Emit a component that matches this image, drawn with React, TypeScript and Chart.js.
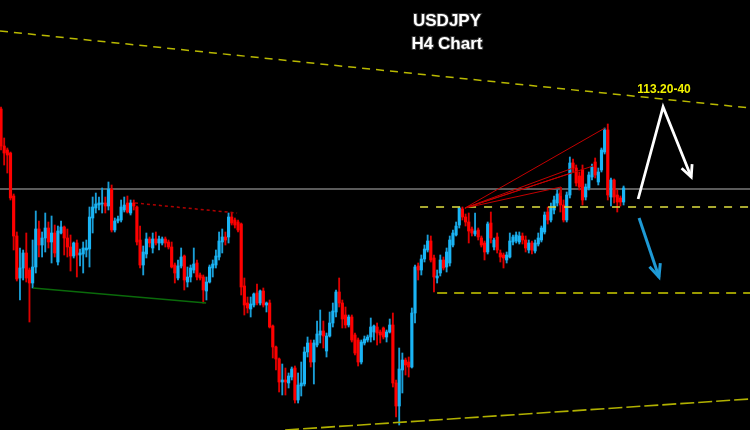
import React, { useEffect, useRef } from "react";
import { Chart, registerables } from "chart.js";

Chart.register(...registerables);

// ---- Candle data (USDJPY H4), one entry per candle ----
const openP = [
  112.91,112.54,112.50,112.47,112.04,111.64,111.22,111.32,111.47,111.30,
  111.17,111.33,111.71,111.55,111.62,111.72,111.58,111.67,111.38,111.67,
  111.73,111.62,111.53,111.44,111.57,111.45,111.46,111.50,111.51,111.82,
  111.92,111.95,111.96,111.97,111.94,112.11,111.70,111.79,111.80,111.90,
  111.97,111.87,111.97,111.93,111.60,111.35,111.46,111.61,111.52,111.61,
  111.57,111.57,111.61,111.58,111.53,111.35,111.22,111.34,111.44,111.18,
  111.23,111.30,111.37,111.25,111.23,111.09,111.18,111.32,111.35,111.43,
  111.58,111.63,111.63,111.83,111.80,111.78,111.76,111.14,110.97,110.91,
  110.95,111.07,110.97,111.09,110.95,110.97,110.74,110.53,110.41,110.18,
  110.20,110.17,110.23,110.32,110.00,110.14,110.16,110.48,110.57,110.38,
  110.55,110.65,110.69,110.49,110.64,110.77,110.88,111.08,110.97,110.85,
  110.75,110.83,110.65,110.60,110.38,110.57,110.60,110.63,110.68,110.73,
  110.68,110.72,110.63,110.68,110.75,110.17,109.94,110.30,110.40,110.38,
  110.33,110.87,111.34,111.30,111.41,111.50,111.59,111.42,111.22,111.27,
  111.40,111.33,111.37,111.55,111.65,111.75,111.91,111.83,111.78,111.71,
  111.66,111.70,111.62,111.57,111.48,111.77,111.53,111.63,111.47,111.45,
  111.40,111.43,111.58,111.59,111.58,111.64,111.60,111.50,111.57,111.49,
  111.56,111.60,111.68,111.88,111.80,111.90,111.97,112.07,111.95,111.80,
  112.05,112.37,112.32,112.24,112.30,112.03,112.12,112.23,112.38,112.18,
  112.30,112.48,112.70,112.03,112.20,112.05,112.02,111.98,
];
const highP = [
  112.93,112.62,112.52,112.48,112.06,111.68,111.52,111.50,111.67,111.32,
  111.60,111.89,111.79,111.68,111.87,111.78,111.84,111.75,111.74,111.79,
  111.74,111.71,111.65,111.58,111.60,111.51,111.58,111.60,111.93,112.03,
  112.07,112.03,112.12,112.03,112.18,112.15,111.82,111.84,112.00,112.03,
  112.04,112.00,112.00,111.94,111.74,111.54,111.67,111.63,111.67,111.68,
  111.64,111.63,111.63,111.60,111.58,111.37,111.40,111.52,111.45,111.33,
  111.35,111.52,111.40,111.27,111.25,111.23,111.35,111.40,111.50,111.68,
  111.71,111.68,111.87,111.87,111.82,111.80,111.77,111.22,111.03,111.03,
  111.07,111.16,111.10,111.12,110.98,111.00,110.75,110.54,110.42,110.36,
  110.32,110.27,110.33,110.34,110.27,110.38,110.53,110.63,110.60,110.60,
  110.79,110.90,110.79,110.67,110.88,110.97,111.10,111.22,111.00,110.93,
  110.85,110.85,110.67,110.62,110.60,110.64,110.65,110.82,110.75,110.77,
  110.70,110.73,110.70,110.81,110.87,110.20,110.52,110.47,110.42,110.43,
  110.92,111.35,111.37,111.45,111.55,111.65,111.64,111.45,111.30,111.45,
  111.43,111.52,111.64,111.70,111.78,111.93,111.93,111.86,111.87,111.73,
  111.87,111.72,111.64,111.59,111.78,111.88,111.62,111.67,111.50,111.47,
  111.48,111.67,111.65,111.68,111.68,111.67,111.64,111.60,111.59,111.60,
  111.67,111.74,111.88,111.93,111.97,112.04,112.10,112.10,112.00,112.08,
  112.43,112.41,112.35,112.28,112.35,112.16,112.28,112.36,112.42,112.32,
  112.52,112.72,112.76,112.22,112.21,112.10,112.04,112.14,
];
const lowP = [
  112.50,112.35,112.27,112.00,111.50,111.19,111.00,111.20,111.18,110.78,
  111.12,111.27,111.43,111.43,111.48,111.52,111.37,111.43,111.35,111.66,
  111.45,111.43,111.29,111.42,111.23,111.34,111.27,111.43,111.33,111.67,
  111.87,111.90,111.87,111.87,111.90,111.68,111.68,111.77,111.78,111.88,
  111.87,111.85,111.90,111.55,111.32,111.25,111.42,111.53,111.47,111.55,
  111.50,111.55,111.53,111.51,111.32,111.17,111.20,111.32,111.10,111.13,
  111.18,111.27,111.20,111.20,110.97,111.00,111.17,111.23,111.32,111.40,
  111.47,111.55,111.57,111.75,111.72,111.68,111.05,110.85,110.87,110.83,
  110.93,110.95,110.95,110.93,110.88,110.72,110.42,110.30,110.08,110.05,
  110.05,110.12,110.20,109.97,109.97,110.04,110.14,110.43,110.33,110.16,
  110.53,110.57,110.52,110.43,110.63,110.73,110.83,110.93,110.72,110.72,
  110.73,110.58,110.45,110.34,110.36,110.55,110.58,110.58,110.60,110.55,
  110.57,110.61,110.58,110.67,110.13,109.83,109.75,110.07,110.25,110.23,
  110.32,110.77,111.20,111.25,111.38,111.48,111.38,111.08,111.17,111.24,
  111.30,111.28,111.34,111.53,111.64,111.72,111.80,111.74,111.57,111.64,
  111.64,111.60,111.53,111.40,111.46,111.57,111.50,111.47,111.38,111.32,
  111.37,111.42,111.55,111.57,111.56,111.56,111.48,111.47,111.46,111.47,
  111.54,111.58,111.66,111.76,111.78,111.86,111.94,111.88,111.78,111.78,
  112.02,112.28,112.14,112.10,111.95,112.00,112.10,112.20,112.22,112.15,
  112.28,112.46,112.00,111.94,111.97,111.88,111.94,111.95,
];
const closeP = [
  112.54,112.47,112.45,112.02,111.64,111.21,111.32,111.47,111.22,111.17,
  111.33,111.71,111.55,111.62,111.72,111.58,111.67,111.47,111.69,111.73,
  111.62,111.53,111.44,111.57,111.45,111.47,111.52,111.52,111.83,111.93,
  111.96,111.97,111.97,111.94,112.11,111.70,111.79,111.81,111.93,111.95,
  111.88,111.97,111.94,111.58,111.35,111.48,111.61,111.57,111.61,111.57,
  111.61,111.61,111.57,111.53,111.33,111.27,111.34,111.43,111.20,111.23,
  111.32,111.36,111.23,111.22,111.10,111.18,111.33,111.36,111.44,111.59,
  111.63,111.60,111.83,111.77,111.75,111.70,111.13,110.95,110.92,110.96,
  111.06,110.97,111.09,110.95,110.97,110.73,110.53,110.41,110.18,110.20,
  110.18,110.24,110.31,110.00,110.15,110.17,110.48,110.57,110.38,110.57,
  110.66,110.69,110.64,110.64,110.77,110.89,111.08,110.97,110.81,110.75,
  110.83,110.60,110.47,110.38,110.58,110.61,110.63,110.73,110.74,110.67,
  110.65,110.63,110.68,110.75,110.17,109.94,110.31,110.40,110.35,110.33,
  110.87,111.33,111.30,111.41,111.51,111.59,111.40,111.23,111.24,111.40,
  111.32,111.48,111.60,111.67,111.74,111.92,111.83,111.78,111.69,111.67,
  111.69,111.63,111.55,111.48,111.76,111.62,111.60,111.50,111.43,111.42,
  111.45,111.59,111.63,111.65,111.64,111.60,111.52,111.57,111.50,111.57,
  111.62,111.72,111.85,111.80,111.92,112.00,112.06,111.95,111.80,112.05,
  112.37,112.32,112.17,112.13,112.00,112.13,112.25,112.33,112.25,112.28,
  112.50,112.70,112.05,112.20,112.03,111.98,111.98,112.12,
];

// ---- Annotation data: [candle index, price] ----
const upperTrend = [[-0.32, 113.69], [237.0, 112.92]];
const lowerTrend = [[89.9, 109.70], [237.0, 110.01]];
const greyLevel = [[-0.32, 112.11], [237.0, 112.11]];
const supportLevel = [[132.6, 111.93], [237.0, 111.93]];
const lowerLevel = [[138.0, 111.07], [237.0, 111.07]];
const redDotted = [[42.4, 111.97], [74.7, 111.87]];
const greenLine = [[10.1, 111.12], [64.9, 110.97]];
const fanOrigin = [146.8, 111.92];
const fanEnds = [[191.1, 112.72], [187.3, 112.34], [181.0, 112.32], [180.4, 112.27], [177.2, 112.13]];
const whiteArrow = [[201.6, 112.01], [209.5, 112.93], [218.4, 112.23]];
const blueArrow = [[201.9, 111.82], [208.2, 111.23]];
const targetLabel = { text: "113.20-40", at: [209.8, 113.10] };
const titleLines = ["USDJPY", "H4 Chart"];

const X_MIN = -0.32;
const X_MAX = 237.0;
const Y_MIN = 109.70;
const Y_MAX = 114.0;

const toXY = (pts: number[][]) => pts.map(([x, y]) => ({ x, y }));

export default function App() {
  const ref = useRef<HTMLCanvasElement | null>(null);

  useEffect(() => {
    document.body.style.margin = "0";
    document.body.style.background = "#000";
    const canvas = ref.current;
    if (!canvas) return;

    const up = closeP.map((c, i) => c >= openP[i]);
    const bodyColors = up.map((u) => (u ? "#1ab4f5" : "#ff0000"));
    const wickColors = up.map((u) => (u ? "#1a9fd8" : "#dd0000"));

    const lineDs = (pts: number[][], color: string, width: number, dash: number[], order: number) => ({
      type: "line" as const,
      data: toXY(pts),
      borderColor: color,
      borderWidth: width,
      borderDash: dash,
      pointRadius: 0,
      fill: false,
      tension: 0,
      order,
      borderJoinStyle: "miter" as const,
    });

    const fanDs = fanEnds.map((e) => lineDs([fanOrigin, e], "#c40000", 1, [], 1));
    const lastFan = fanEnds[fanEnds.length - 1];
    fanDs.push(lineDs([lastFan, [lastFan[0], 112.04]], "#c40000", 1, [], 1));

    const overlay = {
      id: "overlay",
      afterDatasetsDraw(chart: any) {
        const { ctx, chartArea, scales } = chart;
        const xs = scales.x, ys = scales.y;
        const px = (p: number[]) => [xs.getPixelForValue(p[0]), ys.getPixelForValue(p[1])];
        const head = (pts: number[][], color: string, w: number, len: number, ang: number) => {
          const [x1, y1] = px(pts[pts.length - 2]);
          const [x2, y2] = px(pts[pts.length - 1]);
          const a = Math.atan2(y2 - y1, x2 - x1);
          ctx.save();
          ctx.strokeStyle = color;
          ctx.lineWidth = w;
          ctx.lineJoin = "miter";
          ctx.beginPath();
          ctx.moveTo(x2 - len * Math.cos(a - ang), y2 - len * Math.sin(a - ang));
          ctx.lineTo(x2, y2);
          ctx.lineTo(x2 - len * Math.cos(a + ang), y2 - len * Math.sin(a + ang));
          ctx.stroke();
          ctx.restore();
        };
        head(whiteArrow, "#ffffff", 2.8, 13, 0.45);
        head(blueArrow, "#1e9ad6", 3, 14, 0.42);

        ctx.save();
        // target label
        const [lx, ly] = px(targetLabel.at);
        ctx.font = 'bold 12px "Liberation Sans", Arial, sans-serif';
        ctx.textAlign = "center";
        ctx.textBaseline = "middle";
        ctx.lineWidth = 2;
        ctx.strokeStyle = "#000";
        ctx.strokeText(targetLabel.text, lx, ly);
        ctx.fillStyle = "#f2f200";
        ctx.fillText(targetLabel.text, lx, ly);
        // title
        ctx.font = 'bold 17px "Liberation Sans", Arial, sans-serif';
        ctx.fillStyle = "#ffffff";
        const tx = chartArea.left + chartArea.width * 0.596;
        titleLines.forEach((t, i) => {
          const ty = chartArea.top + chartArea.height * (0.049 + i * 0.053);
          ctx.strokeStyle = "#333";
          ctx.lineWidth = 2;
          ctx.strokeText(t, tx, ty);
          ctx.fillText(t, tx, ty);
        });
        ctx.restore();
      },
    };

    const chart = new Chart(canvas, {
      type: "bar",
      data: {
        datasets: [
          lineDs(greyLevel, "#7a7a7a", 1.6, [], 20),
          {
            type: "bar",
            data: lowP.map((l, i) => ({ x: i, y: [l, highP[i]] })),
            backgroundColor: wickColors,
            barThickness: 1.2,
            grouped: false,
            borderWidth: 0,
            order: 11,
          } as any,
          {
            type: "bar",
            data: openP.map((o, i) => ({ x: i, y: [o, closeP[i]] })),
            backgroundColor: bodyColors,
            barThickness: 2.5,
            minBarLength: 1,
            grouped: false,
            borderWidth: 0,
            order: 10,
          } as any,
          lineDs(upperTrend, "#b8b800", 1.5, [8, 6], 5),
          lineDs(lowerTrend, "#b0b000", 1.6, [14, 4], 5),
          lineDs(supportLevel, "#e0e040", 1.5, [8, 8], 4),
          lineDs(lowerLevel, "#9a9a00", 2, [10, 7], 4),
          lineDs(redDotted, "#b00000", 1.5, [3, 3], 3),
          lineDs(greenLine, "#0a6a0a", 1.5, [], 3),
          ...fanDs,
          lineDs(whiteArrow, "#ffffff", 2.8, [], 0),
          lineDs(blueArrow, "#1e9ad6", 3, [], 0),
        ] as any,
      },
      options: {
        animation: false,
        responsive: true,
        maintainAspectRatio: false,
        layout: { padding: 0 },
        plugins: { legend: { display: false }, tooltip: { enabled: false }, title: { display: false } },
        events: [],
        scales: {
          x: { type: "linear", min: X_MIN, max: X_MAX, display: false, offset: false, grid: { display: false } },
          y: { type: "linear", min: Y_MIN, max: Y_MAX, display: false, grid: { display: false } },
        },
      },
      plugins: [overlay],
    });

    return () => chart.destroy();
  }, []);

  return (
    <div style={{ width: 750, height: 430, position: "relative", background: "#000" }}>
      <canvas ref={ref} />
    </div>
  );
}
